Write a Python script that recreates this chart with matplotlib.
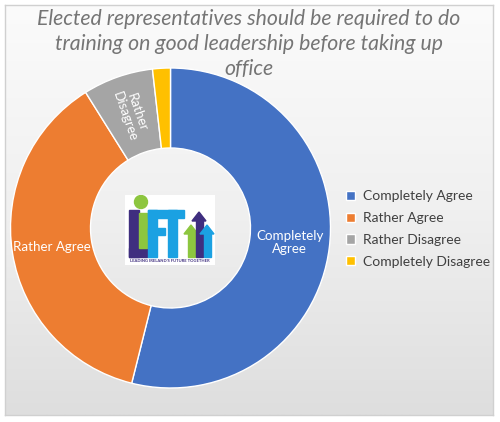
import numpy as np
import matplotlib
matplotlib.use("Agg")
import matplotlib.pyplot as plt
from matplotlib.patches import Rectangle, Circle, Polygon

categories = ["Completely Agree", "Rather Agree", "Rather Disagree", "Completely Disagree"]
values = [53.9, 37.2, 7.1, 1.8]
colors = ["#4472C4", "#ED7D31", "#A5A5A5", "#FFC000"]
slice_labels = ["Completely\nAgree", "Rather Agree", "Rather\nDisagree", ""]
title = "Elected representatives should be required to do\ntraining on good leadership before taking up\noffice"

plt.rcParams['font.family'] = ['Lato', 'DejaVu Sans']

W, H = 500, 422
fig = plt.figure(figsize=(W / 100, H / 100), dpi=100)
fig.patch.set_facecolor("white")

def fax(x0, y0, x1, y1):
    return fig.add_axes([x0 / W, 1 - y1 / H, (x1 - x0) / W, (y1 - y0) / H])

# background gradient with border
bg = fax(5, 5, 493, 415)
grad = np.linspace(0, 1, 256).reshape(-1, 1)
bg.imshow(grad, aspect="auto", cmap=matplotlib.colors.LinearSegmentedColormap.from_list(
    "g", ["#FBFBFB", "#F0F0F0", "#DEDEDE"]), extent=[0, 1, 0, 1], origin="upper")
bg.set_xticks([]); bg.set_yticks([])
for s in bg.spines.values():
    s.set_color("#D0D0D0"); s.set_linewidth(1)

# title
fig.text(249 / W, 1 - 44 / H, title, ha="center", va="center", fontsize=15.3,
         style="italic", color="#757575", linespacing=1.33)

# donut
cx, cy, R = 170.5, 228, 160
ax = fax(cx - R, cy - R, cx + R, cy + R)
wedges, _ = ax.pie(values, colors=colors, startangle=90, counterclock=False,
                   radius=1, wedgeprops=dict(width=0.5, edgecolor="white", linewidth=1))
ax.set_xlim(-1, 1); ax.set_ylim(-1, 1)
ax.set_aspect("equal")
ax.axis("off")
for w, lab in zip(wedges, slice_labels):
    if not lab:
        continue
    mid = ((w.theta1 + w.theta2) / 2) % 360
    r = 0.75
    x, y = r * np.cos(np.radians(mid)), r * np.sin(np.radians(mid))
    rot = 0
    if abs(w.theta2 - w.theta1) < 40:
        rot = mid - 180 if 90 < mid < 270 else mid
    ax.text(x, y, lab, ha="center", va="center", color="white", fontsize=9.6,
            rotation=rot, rotation_mode="anchor", linespacing=1.15)

# legend
leg = fig.legend(wedges, categories, loc="center left",
                 bbox_to_anchor=(333 / W, 1 - 229 / H), frameon=False,
                 fontsize=10, handlelength=0.65, handleheight=0.65,
                 handletextpad=0.6, labelspacing=0.7, labelcolor="#404040")

# logo (approximation)
lg = fax(125, 195, 215, 265)
lg.set_xlim(0, 90); lg.set_ylim(70, 0)
lg.axis("off")
lg.add_patch(Rectangle((0, 0), 90, 70, color="white"))
purple, green, blue = "#3F2E7F", "#8DC63F", "#1BA1E2"
lg.add_patch(Rectangle((4, 15), 10, 47, color=purple))
lg.add_patch(Rectangle((4, 53), 18, 9, color=purple))
lg.add_patch(Rectangle((14, 18), 8, 35, color=green))
lg.add_patch(Circle((16, 7), 6.5, color=green))
lg.add_patch(Rectangle((23, 15), 9, 47, color=blue))
lg.add_patch(Rectangle((23, 15), 36, 8, color=blue))
lg.add_patch(Rectangle((23, 33), 17, 7, color=blue))
lg.add_patch(Rectangle((43, 15), 9, 47, color=blue))
for xc, ytop, c in [(66, 30, green), (74, 17, purple), (82, 30, blue)]:
    lg.add_patch(Rectangle((xc - 3.5, ytop + 8), 7, 62 - ytop - 8, color=c))
    lg.add_patch(Polygon([(xc - 7, ytop + 9), (xc, ytop), (xc + 7, ytop + 9)], color=c))
lg.text(45, 66.5, "LEADING IRELAND'S FUTURE TOGETHER", ha="center", va="center",
        fontsize=3, color=purple, fontweight="bold")

fig.savefig("out.png", dpi=100, facecolor=fig.get_facecolor())
